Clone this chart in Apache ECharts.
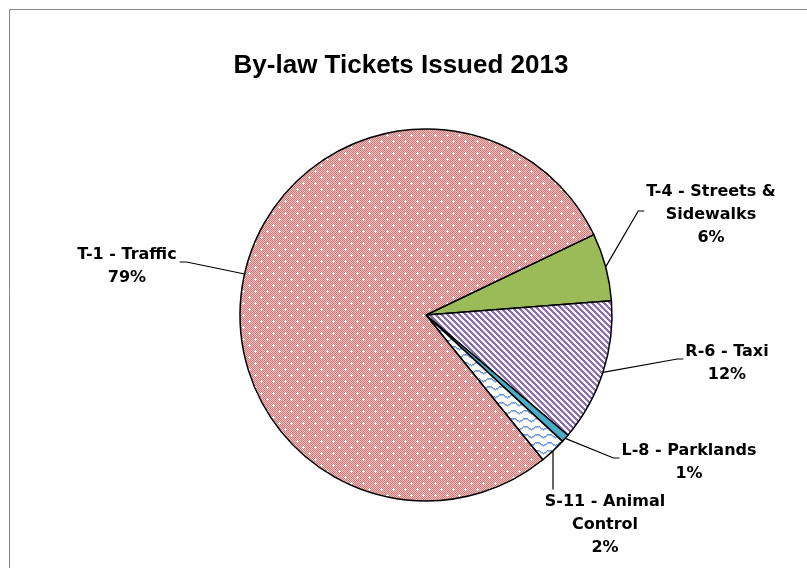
<!DOCTYPE html>
<html>
<head>
    <meta charset="utf-8" />
    <title>By-law Tickets Issued 2013</title>
    <script src="https://cdn.jsdelivr.net/npm/echarts@6/dist/echarts.min.js"></script>
    <style>
        html, body { margin: 0; padding: 0; background: #fff; }
        #main { width: 807px; height: 568px; }
    </style>
</head>
<body>
    <div id="main"></div>
    <script type="text/javascript">
        // slices, clockwise, starting at the T-4 edge (~64 deg past 12 o'clock)
        var categories = ['T-4 - Streets &\nSidewalks', 'R-6 - Taxi', 'L-8 - Parklands', 'S-11 - Animal\nControl', 'T-1 - Traffic'];
        var shares = [5.9, 12.4, 0.7, 2.3, 78.7];
        // where each label block sits (centre of the text)
        var labelCenters = [[711, 215], [727, 363], [689, 462], [605, 525], [127, 266]];

        // small canvas tiles for the Excel-like fill patterns
        function makeTile(w, h, draw) {
            var c = document.createElement('canvas');
            c.width = w; c.height = h;
            draw(c.getContext('2d'), w, h);
            return c;
        }
        function px(ctx, x, y, col) {
            ctx.fillStyle = col;
            ctx.fillRect(x, y, 1, 1);
        }

        var dotGrid = makeTile(12, 12, function (ctx, w, h) {
            for (var y = 0; y < h; y++)
                for (var x = 0; x < w; x++)
                    px(ctx, x, y, (x + y) % 2 ? '#eebfbf' : '#cf7a7a');
            [[3, 3], [9, 9]].forEach(function (p) {
                px(ctx, p[0], p[1], '#fff');
                px(ctx, p[0] - 1, p[1], '#fff');
                px(ctx, p[0] + 1, p[1], '#fff');
                px(ctx, p[0], p[1] - 1, '#fff');
                px(ctx, p[0], p[1] + 1, '#fff');
            });
        });

        var stripes = makeTile(6, 6, function (ctx, w, h) {
            for (var y = 0; y < h; y++)
                for (var x = 0; x < w; x++)
                    px(ctx, x, y, ((x - y + 6) % 6) < 3 ? '#8a70ad' : '#f6f3fa');
        });

        var waves = makeTile(12, 8, function (ctx, w, h) {
            ctx.fillStyle = '#fff';
            ctx.fillRect(0, 0, w, h);
            for (var x = 0; x < w; x++) {
                var y = Math.round(3 + 1.5 * Math.sin(2 * Math.PI * x / w));
                px(ctx, x, y, '#6f9ad6');
                px(ctx, x, y + 1, '#9dbce6');
            }
        });

        var fills = [
            '#9bbb59',
            { image: stripes, repeat: 'repeat' },
            '#4bacc6',
            { image: waves, repeat: 'repeat' },
            { image: dotGrid, repeat: 'repeat' }
        ];

        var myChart = echarts.init(document.getElementById('main'));
        var option = {
            animation: false,
            title: {
                text: 'By-law Tickets Issued 2013',
                left: 396,
                top: 48,
                textAlign: 'center',
                textStyle: {
                    fontFamily: 'Liberation Sans',
                    fontWeight: 'bold',
                    fontSize: 26,
                    color: '#000'
                }
            },
            graphic: [{
                type: 'rect',
                shape: { x: 9.5, y: 9.5, width: 900, height: 700 },
                style: { fill: 'none', stroke: '#868686', lineWidth: 1 },
                silent: true
            }],
            series: [{
                type: 'pie',
                center: [426, 315],
                radius: 186,
                startAngle: 25.6,
                clockwise: true,
                avoidLabelOverlap: false,
                silent: true,
                data: categories.map(function (n, i) {
                    return { name: n, value: shares[i], itemStyle: { color: fills[i] } };
                }),
                itemStyle: { borderColor: '#000', borderWidth: 1.5 },
                label: {
                    show: true,
                    formatter: function (p) {
                        return p.name + '\n' + Math.round(p.percent) + '%';
                    },
                    color: '#000',
                    fontFamily: 'DejaVu Sans',
                    fontWeight: 'bold',
                    fontSize: 16,
                    lineHeight: 23,
                    align: 'center'
                },
                labelLine: {
                    show: true,
                    length: 10,
                    length2: 10,
                    lineStyle: { color: '#000', width: 1.2 }
                },
                labelLayout: function (p) {
                    var c = labelCenters[p.dataIndex];
                    var w = p.labelRect.width, h = p.labelRect.height;
                    var e = p.labelLinePoints[0];
                    var left = c[0] - w / 2, right = c[0] + w / 2, top = c[1] - h / 2;
                    var pts;
                    if (e[0] < left - 4) {
                        pts = [e, [left - 8, c[1] - 4], [left - 2, c[1] - 4]];
                    } else if (e[0] > right + 4) {
                        pts = [e, [right + 10, c[1] - 4], [right + 3, c[1] - 4]];
                    } else {
                        pts = [e, [e[0], top - 1], [e[0], top - 1]];
                    }
                    return { x: c[0], y: c[1], align: 'center', verticalAlign: 'middle', labelLinePoints: pts };
                }
            }]
        };
        myChart.setOption(option);
    </script>
</body>
</html>
